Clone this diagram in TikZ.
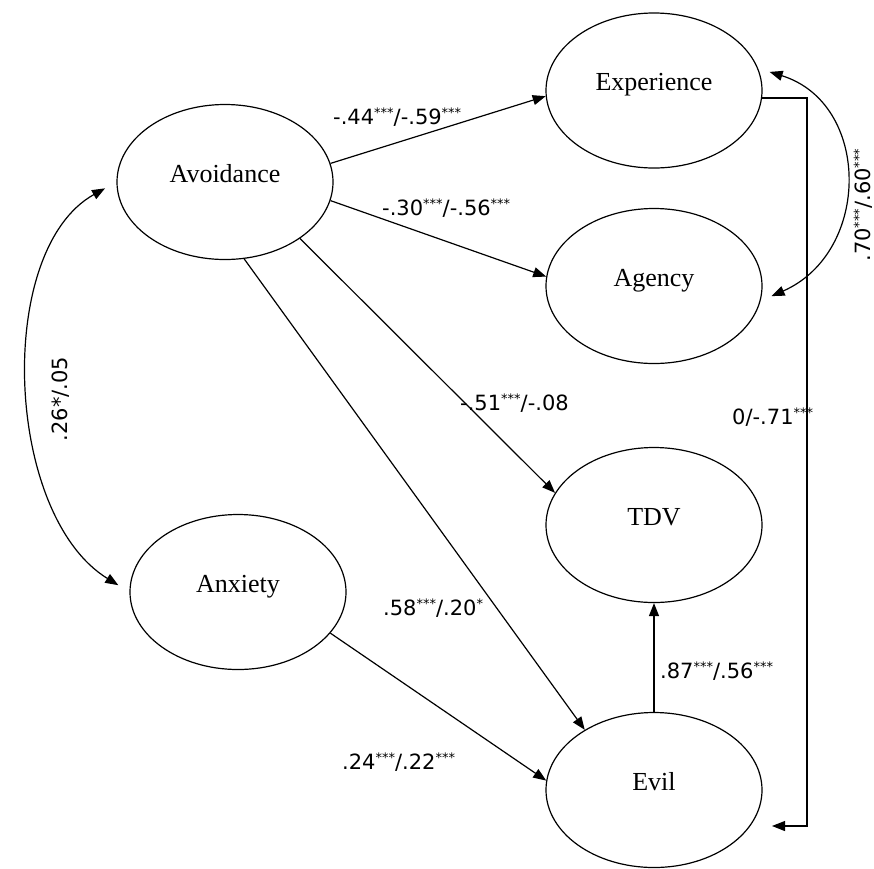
\documentclass[tikz,border=0pt]{standalone}
\usepackage{fontspec}
\setmainfont{Liberation Serif}
\newfontfamily\labfont{DejaVu Sans}
\usetikzlibrary{shapes.geometric,arrows.meta}
\newcommand\sstar[1]{\raisebox{7pt}{\fontsize{13}{14}\selectfont #1}}
\begin{document}
\begin{tikzpicture}[x=1pt,y=-1pt,
  ell/.style={draw, ellipse, line width=1.2pt, minimum width=216pt, minimum height=155pt, inner sep=0pt},
  ntext/.style={anchor=base, font=\fontsize{26}{30}\selectfont, inner sep=0pt},
  lab/.style={font=\labfont\fontsize{21}{24}\selectfont, inner sep=0pt, anchor=base west},
  conn/.style={line width=1.2pt, -{Triangle[length=13pt,width=10pt]}},
  dconn/.style={line width=1.2pt, {Triangle[length=13pt,width=10pt]}-{Triangle[length=13pt,width=10pt]}}]
\useasboundingbox (0,0) rectangle (874,868);

% ellipses
\node[ell] (av)   at (225,182)   {};
\node[ell] (anx)  at (238,592)   {};
\node[ell] (exp)  at (654,90.5)  {};
\node[ell] (agc)  at (654,286)   {};
\node[ell] (tdv)  at (654,525)   {};
\node[ell] (evil) at (654,790)   {};

\node[ntext] (tav)   at (av.center)   {Avoidance};
\node[ntext] (tanx)  at (anx.center)  {Anxiety};
\node[ntext] (texp)  at (exp.center)  {Experience};
\node[ntext] (tagc)  at (agc.center)  {Agency};
\node[ntext] (ttdv)  at (tdv.center)  {TDV};
\node[ntext] (tevil) at (evil.center) {Evil};

% paths
\draw[conn] (av.10)  -- (exp.183);
\draw[conn] (av.-10) -- (agc.175);
\draw[conn] (av.-37) -- (tdv.162);
\draw[conn] (av.-76) -- (evil.139);
\draw[conn] (anx.-24) -- (evil.175);
\draw[conn] (evil.north) -- (tdv.south);
\draw[conn] (exp.-4) -- ++(45,0) |- ([shift={(118,36)}]evil.center);

% covariances
\draw[dconn, shorten <=12pt, shorten >=12pt] (exp.12) .. controls +(113,35) and +(111,-49) .. (agc.-8);
\draw[dconn, shorten <=13pt, shorten >=13pt] (av.west) .. controls +(-122,68) and +(-125,-77) .. (anx.west);

% labels
\node[lab] (l1) at (333,124) {-.44\sstar{***}/-.59\sstar{***}};
\node[lab] (l2) at (382,215) {-.30\sstar{***}/-.56\sstar{***}};
\node[lab] (l3) at (460,410) {-.51\sstar{***}/-.08};
\node[lab] (l4) at (732,424) {0/-.71\sstar{***}};
\node[lab] (l5) at (383,615) {.58\sstar{***}/.20\sstar{*}};
\node[lab] (l6) at (342,769) {.24\sstar{***}/.22\sstar{***}};
\node[lab] (l7) at (660,678) {.87\sstar{***}/.56\sstar{***}};
\node[lab, anchor=center, rotate=90] (l8) at (863,205) {.70\sstar{***}/.60\sstar{***}};
\node[lab, anchor=center, rotate=90] (l9) at (61,399) {.26*/.05};
\end{tikzpicture}
\end{document}
